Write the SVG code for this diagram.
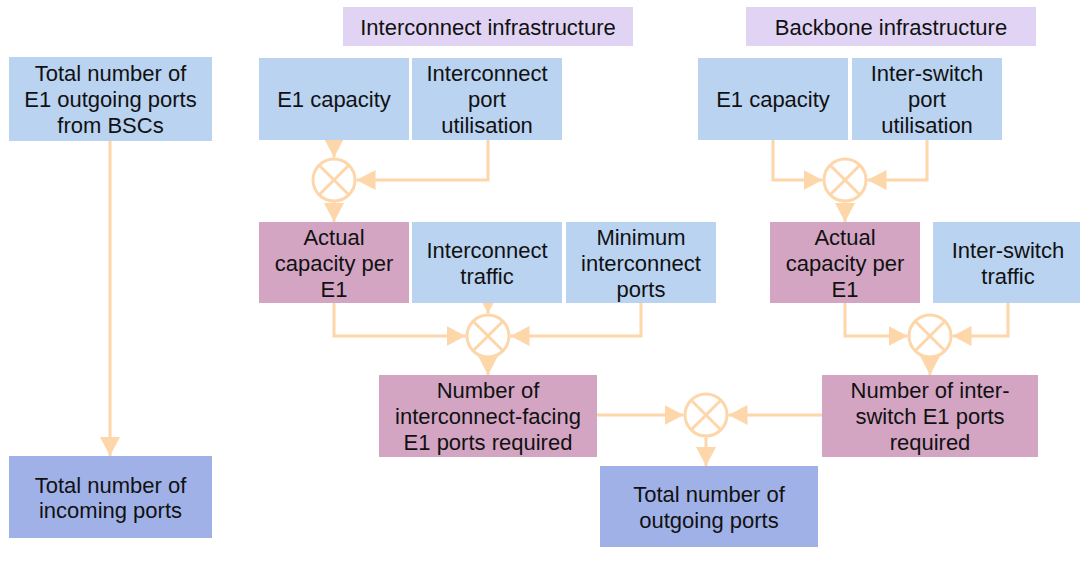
<svg xmlns="http://www.w3.org/2000/svg" width="1080" height="566" viewBox="0 0 1080 566">
  <style>
    text { font-family: "Liberation Sans", Arial, sans-serif; font-size: 22px; fill: #111; text-anchor: middle; }
    .hdr { fill: #E1D3F3; }
    .input { fill: #B9D3F1; }
    .calc { fill: #D3A5C3; }
    .output { fill: #A0B1E8; }
    .conn { fill: none; stroke: #FDD6AA; stroke-width: 3; marker-end: url(#arrow); }
    .op circle { fill: #fff; stroke: #FDD6AA; stroke-width: 3; }
    .op line { stroke: #FDD6AA; stroke-width: 3; }
  </style>
  <defs>
    <marker id="arrow" markerUnits="userSpaceOnUse" markerWidth="20" markerHeight="20" refX="19" refY="10" orient="auto">
      <path d="M0,0 L19,10 L0,20 z" fill="#FDD6AA"/>
    </marker>
  </defs>
  <rect width="1080" height="566" fill="#fff"/>

  <!-- section headers -->
  <g id="hdr-interconnect">
    <rect class="hdr" x="343" y="7" width="290" height="39"/>
    <text x="488" y="34.5">Interconnect infrastructure</text>
  </g>
  <g id="hdr-backbone">
    <rect class="hdr" x="746" y="7" width="290" height="39"/>
    <text x="891" y="34.5">Backbone infrastructure</text>
  </g>

  <!-- connectors -->
  <g id="connectors">
    <line class="conn" x1="110" y1="141" x2="110" y2="456"/>
    <!-- interconnect: capacity per E1 -->
    <line class="conn" x1="334" y1="140" x2="334" y2="157.5"/>
    <polyline class="conn" points="488,140 488,180 356.5,180"/>
    <line class="conn" x1="334" y1="202.5" x2="334" y2="222"/>
    <!-- backbone: capacity per E1 -->
    <polyline class="conn" points="773,140 773,180 822.5,180"/>
    <polyline class="conn" points="927,140 927,180 867.5,180"/>
    <line class="conn" x1="845" y1="202.5" x2="845" y2="222"/>
    <!-- interconnect-facing ports -->
    <polyline class="conn" points="334,303 334,336 465.5,336"/>
    <line class="conn" x1="488" y1="303" x2="488" y2="313.5"/>
    <polyline class="conn" points="641,303 641,336 510.5,336"/>
    <line class="conn" x1="488" y1="358.5" x2="488" y2="375"/>
    <!-- inter-switch ports -->
    <polyline class="conn" points="845,303 845,336 907.5,336"/>
    <polyline class="conn" points="1008,303 1008,336 952.5,336"/>
    <line class="conn" x1="930" y1="358.5" x2="930" y2="375"/>
    <!-- total outgoing -->
    <line class="conn" x1="597" y1="415" x2="683.5" y2="415"/>
    <line class="conn" x1="822" y1="415" x2="728.5" y2="415"/>
    <line class="conn" x1="706" y1="437.5" x2="706" y2="466"/>
  </g>

  <!-- multiplication operators -->
  <g id="op-ic-capacity" class="op">
    <circle cx="334" cy="180" r="21"/>
    <line x1="319.2" y1="165.2" x2="348.8" y2="194.8"/>
    <line x1="348.8" y1="165.2" x2="319.2" y2="194.8"/>
  </g>
  <g id="op-bb-capacity" class="op">
    <circle cx="845" cy="180" r="21"/>
    <line x1="830.2" y1="165.2" x2="859.8" y2="194.8"/>
    <line x1="859.8" y1="165.2" x2="830.2" y2="194.8"/>
  </g>
  <g id="op-ic-ports" class="op">
    <circle cx="488" cy="336" r="21"/>
    <line x1="473.2" y1="321.2" x2="502.8" y2="350.8"/>
    <line x1="502.8" y1="321.2" x2="473.2" y2="350.8"/>
  </g>
  <g id="op-bb-ports" class="op">
    <circle cx="930" cy="336" r="21"/>
    <line x1="915.2" y1="321.2" x2="944.8" y2="350.8"/>
    <line x1="944.8" y1="321.2" x2="915.2" y2="350.8"/>
  </g>
  <g id="op-total" class="op">
    <circle cx="706" cy="415" r="21"/>
    <line x1="691.2" y1="400.2" x2="720.8" y2="429.8"/>
    <line x1="720.8" y1="400.2" x2="691.2" y2="429.8"/>
  </g>

  <!-- left column -->
  <g id="bsc-outgoing">
    <rect class="input" x="9" y="57" width="203" height="84"/>
    <text x="110.5" y="81">Total number of</text>
    <text x="110.5" y="107">E1 outgoing ports</text>
    <text x="110.5" y="133">from BSCs</text>
  </g>
  <g id="total-incoming">
    <rect class="output" x="9" y="456" width="203" height="82"/>
    <text x="110.5" y="492.5">Total number of</text>
    <text x="110.5" y="518">incoming ports</text>
  </g>

  <!-- interconnect inputs -->
  <g id="ic-e1-capacity">
    <rect class="input" x="259" y="58" width="150" height="82"/>
    <text x="334" y="107">E1 capacity</text>
  </g>
  <g id="ic-port-util">
    <rect class="input" x="412" y="58" width="150" height="82"/>
    <text x="487" y="81">Interconnect</text>
    <text x="487" y="107">port</text>
    <text x="487" y="133">utilisation</text>
  </g>
  <g id="ic-actual-capacity">
    <rect class="calc" x="259" y="222" width="150" height="81"/>
    <text x="334" y="244.5">Actual</text>
    <text x="334" y="270.5">capacity per</text>
    <text x="334" y="296.5">E1</text>
  </g>
  <g id="ic-traffic">
    <rect class="input" x="412" y="222" width="150" height="81"/>
    <text x="487" y="257.5">Interconnect</text>
    <text x="487" y="283.5">traffic</text>
  </g>
  <g id="ic-min-ports">
    <rect class="input" x="566" y="222" width="150" height="81"/>
    <text x="641" y="244.5">Minimum</text>
    <text x="641" y="270.5">interconnect</text>
    <text x="641" y="296.5">ports</text>
  </g>
  <g id="ic-ports-required">
    <rect class="calc" x="379" y="375" width="218" height="82"/>
    <text x="488" y="398">Number of</text>
    <text x="488" y="424">interconnect-facing</text>
    <text x="488" y="450">E1 ports required</text>
  </g>

  <!-- backbone inputs -->
  <g id="bb-e1-capacity">
    <rect class="input" x="698" y="58" width="150" height="82"/>
    <text x="773" y="107">E1 capacity</text>
  </g>
  <g id="bb-port-util">
    <rect class="input" x="852" y="58" width="150" height="82"/>
    <text x="927" y="81">Inter-switch</text>
    <text x="927" y="107">port</text>
    <text x="927" y="133">utilisation</text>
  </g>
  <g id="bb-actual-capacity">
    <rect class="calc" x="770" y="222" width="150" height="81"/>
    <text x="845" y="244.5">Actual</text>
    <text x="845" y="270.5">capacity per</text>
    <text x="845" y="296.5">E1</text>
  </g>
  <g id="bb-traffic">
    <rect class="input" x="933" y="222" width="147" height="81"/>
    <text x="1008" y="257.5">Inter-switch</text>
    <text x="1008" y="283.5">traffic</text>
  </g>
  <g id="bb-ports-required">
    <rect class="calc" x="822" y="375" width="216" height="82"/>
    <text x="930" y="398">Number of inter-</text>
    <text x="930" y="424">switch E1 ports</text>
    <text x="930" y="450">required</text>
  </g>

  <!-- result -->
  <g id="total-outgoing">
    <rect class="output" x="600" y="466" width="218" height="81"/>
    <text x="709" y="501.5">Total number of</text>
    <text x="709" y="527.5">outgoing ports</text>
  </g>
</svg>
